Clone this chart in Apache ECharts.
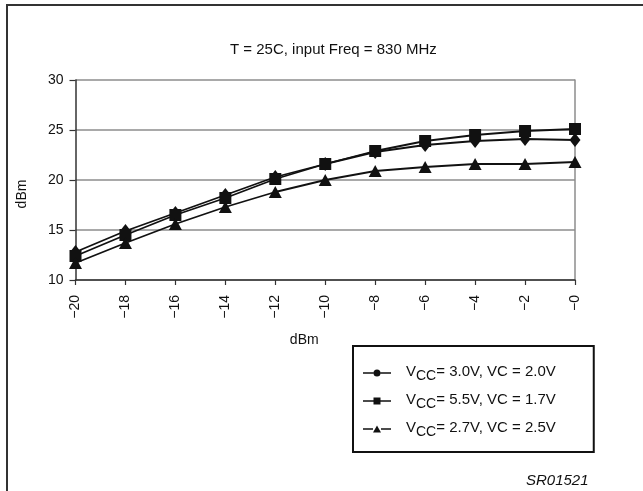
<!DOCTYPE html>
<html><head><meta charset="utf-8">
<script src="https://cdn.jsdelivr.net/npm/echarts@6/dist/echarts.min.js"></script>
<style>html,body{margin:0;padding:0;background:#fff}#c{width:643px;height:491px}</style>
</head><body><div id="c"></div><script>
const xLabels = ['−20','−18','−16','−14','−12','−10','−8','−6','−4','−2','−0'];
const yTicks = [10, 15, 20, 25, 30];
const names = ['VCC= 3.0V, VC = 2.0V', 'VCC= 5.5V, VC = 1.7V', 'VCC= 2.7V, VC = 2.5V'];
const vcc30 = [12.8, 14.9, 16.7, 18.5, 20.3, 21.6, 22.8, 23.5, 23.9, 24.1, 24.0];
const vcc55 = [12.4, 14.5, 16.5, 18.2, 20.1, 21.6, 22.9, 23.9, 24.5, 24.9, 25.1];
const vcc27 = [11.7, 13.7, 15.6, 17.3, 18.8, 20.0, 20.9, 21.3, 21.6, 21.6, 21.8];

const FONT = 'Liberation Sans, Arial, sans-serif';
const INK = '#111';
const icons = [
  'path://M0,2.8L10.5,2.8L10.5,4.2L0,4.2Z M17.5,2.8L28,2.8L28,4.2L17.5,4.2Z M10.5,3.5A3.5,3.5 0 1,1 17.5,3.5A3.5,3.5 0 1,1 10.5,3.5Z',
  'path://M0,2.8L10.5,2.8L10.5,4.2L0,4.2Z M17.5,2.8L28,2.8L28,4.2L17.5,4.2Z M10.5,0L17.5,0L17.5,7L10.5,7Z',
  'path://M0,2.8L10,2.8L10,4.2L0,4.2Z M18,2.8L28,2.8L28,4.2L18,4.2Z M14,0L18,7L10,7Z'
];
const symbols = ['diamond', 'rect', 'triangle'];
const sizes = [[11, 14], [12, 12], [13, 12]];
const values = [vcc30, vcc55, vcc27];

const chart = echarts.init(document.getElementById('c'), null, {renderer: 'canvas'});
chart.setOption({
  animation: false,
  backgroundColor: '#fff',
  textStyle: {fontFamily: FONT},
  title: [
    {text: 'T = 25C, input Freq = 830 MHz', left: 225, top: 37,
     textStyle: {fontFamily: FONT, fontSize: 15, fontWeight: 'normal', color: INK}},
    {text: 'SR01521', left: 521, top: 468,
     textStyle: {fontFamily: FONT, fontSize: 15, fontWeight: 'normal', fontStyle: 'italic', color: INK}}
  ],
  graphic: [{
    type: 'rect', shape: {x: 7, y: 5, width: 800, height: 600},
    style: {fill: 'none', stroke: '#333', lineWidth: 2}, silent: true
  }],
  grid: {left: 75.5, right: 68, top: 80, bottom: 211},
  legend: {
    orient: 'vertical', left: 353, top: 346,
    padding: [18, 38, 13, 10], itemGap: 9,
    itemWidth: 28, itemHeight: 7, symbolKeepAspect: false,
    borderColor: INK, borderWidth: 2,
    data: names.map((n, i) => ({name: n, icon: icons[i], itemStyle: {color: INK}})),
    formatter: n => '{g|}{n|V}{s|CC}{n|' + n.replace('VCC', '') + '}',
    textStyle: {
      color: INK, fontFamily: FONT, fontSize: 15,
      rich: {
        g: {width: 10},
        n: {fontFamily: FONT, fontSize: 15, color: INK, verticalAlign: 'top', lineHeight: 18},
        s: {fontFamily: FONT, fontSize: 14, color: INK, verticalAlign: 'top', lineHeight: 18, padding: [5, 0, 0, 0]}
      }
    }
  },
  xAxis: {
    type: 'category', data: xLabels, boundaryGap: false,
    name: 'dBm', nameLocation: 'middle', nameGap: 53,
    nameTextStyle: {fontFamily: FONT, fontSize: 14, color: INK, padding: [0, 42, 0, 0]},
    axisLine: {lineStyle: {color: '#333', width: 1.5}},
    axisTick: {show: true, length: 5, lineStyle: {color: '#333', width: 1.2}},
    axisLabel: {rotate: 90, margin: 15, fontFamily: FONT, fontSize: 14, color: INK, interval: 0},
    splitLine: {show: false}
  },
  yAxis: [{
    type: 'value', min: yTicks[0], max: yTicks[yTicks.length - 1], interval: 5,
    name: 'dBm', nameLocation: 'middle', nameGap: 46,
    nameTextStyle: {fontFamily: FONT, fontSize: 14, color: INK, padding: [0, 28, 0, 0]},
    axisLine: {show: true, lineStyle: {color: '#333', width: 1.5}},
    axisTick: {show: true, length: 6, lineStyle: {color: '#333', width: 1.2}},
    axisLabel: {margin: 12, fontFamily: FONT, fontSize: 14, color: INK},
    splitLine: {show: true, lineStyle: {color: '#8c8c8c', width: 1.5}}
  }, {
    type: 'value', min: yTicks[0], max: yTicks[yTicks.length - 1], interval: 5, position: 'right',
    axisLine: {show: true, lineStyle: {color: '#8c8c8c', width: 1.5}},
    axisTick: {show: false}, axisLabel: {show: false}, splitLine: {show: false}
  }],
  series: values.map((v, i) => ({
    name: names[i], type: 'line', data: v,
    symbol: symbols[i], symbolSize: sizes[i], showSymbol: true,
    lineStyle: {color: INK, width: 1.8},
    itemStyle: {color: INK},
    z: 3 + i
  }))
});
</script></body></html>
